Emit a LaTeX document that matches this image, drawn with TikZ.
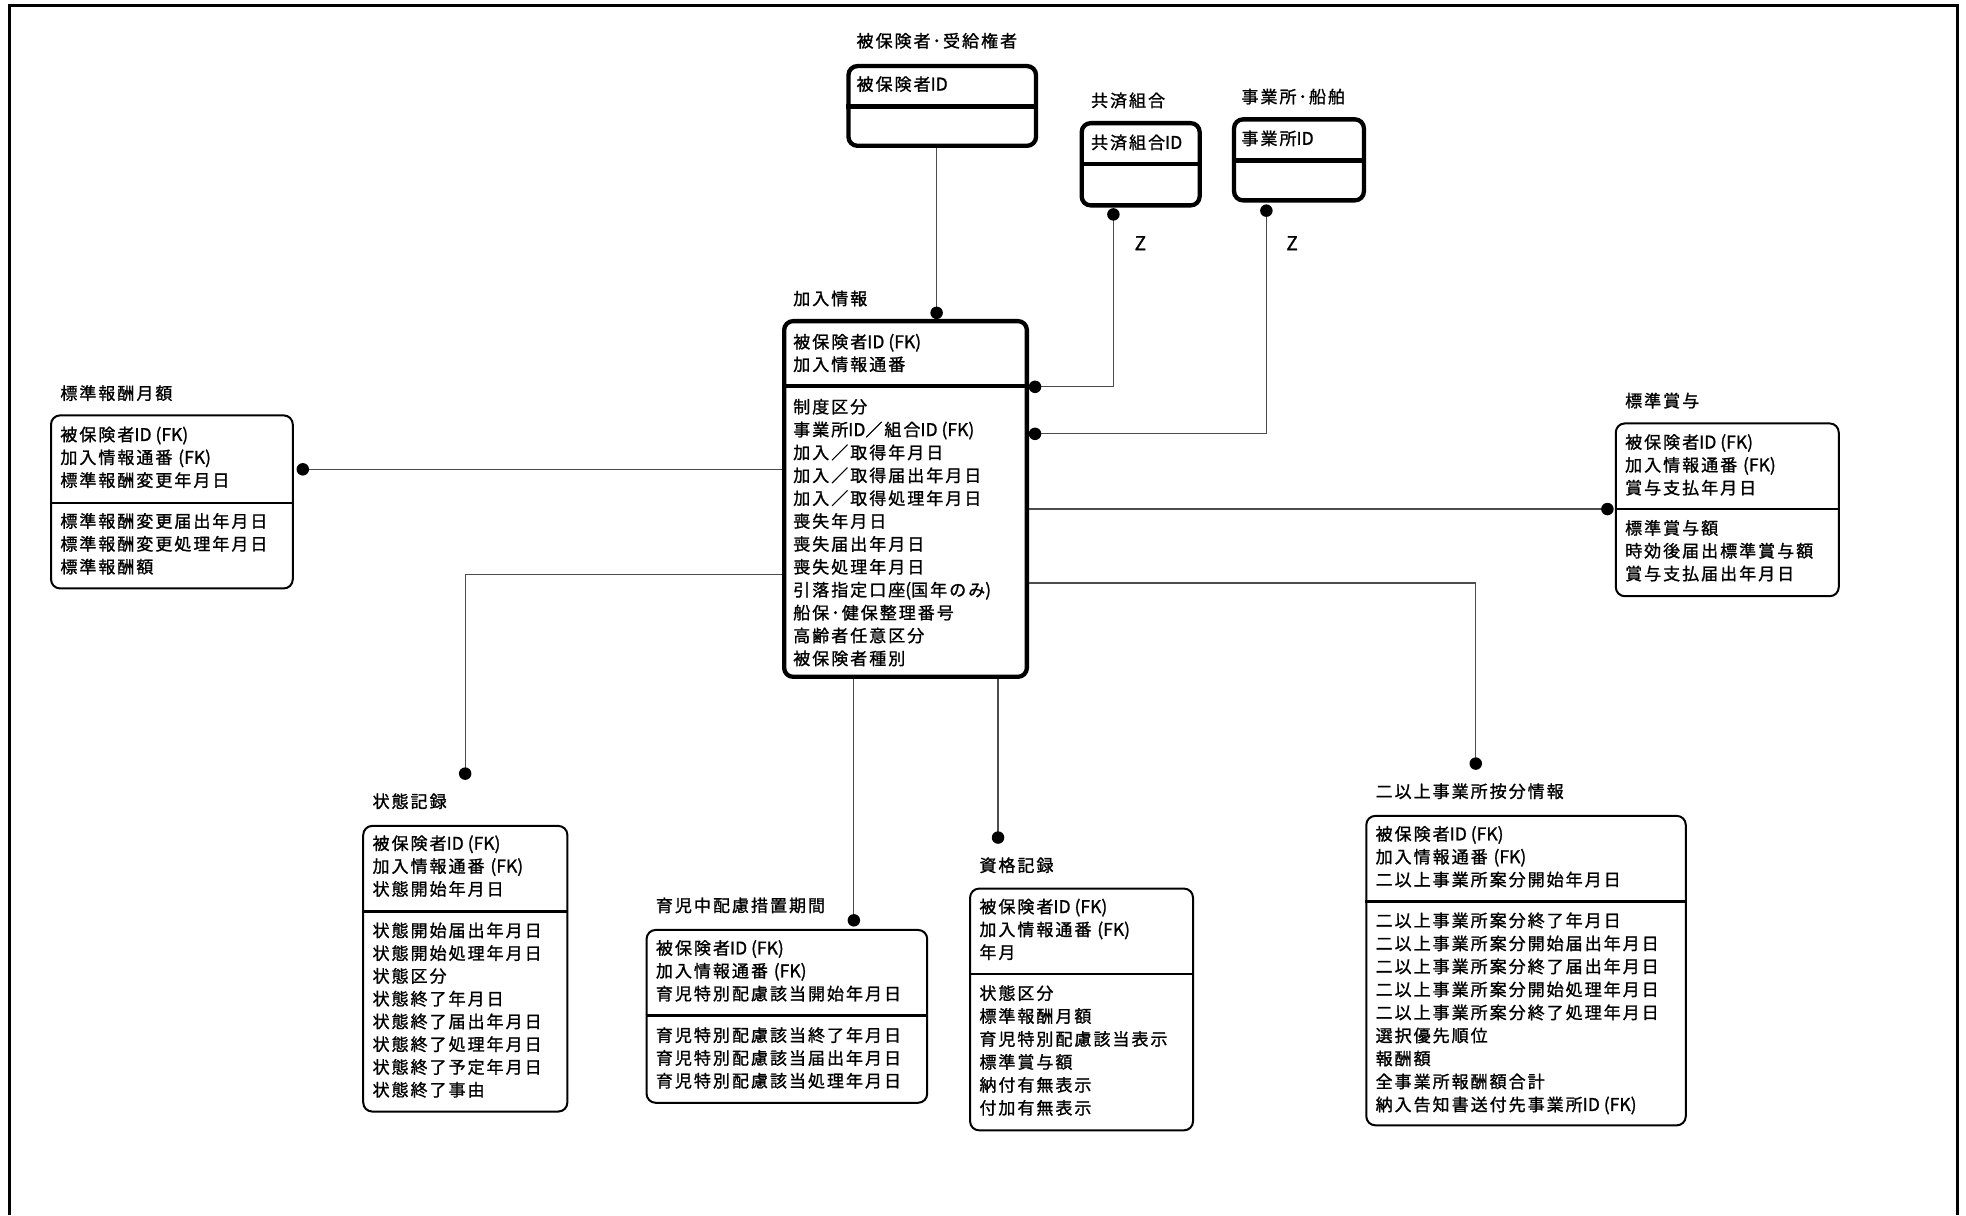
\documentclass[tikz,border=0pt]{standalone}
\usepackage{fontspec}
\setmainfont{Noto Sans CJK JP}[LetterSpace=11.8,FakeBold=1.2]
\newfontfamily\latf{Noto Sans CJK JP}[FakeBold=1.2]
\usetikzlibrary{fit}
\newcommand{\ltn}[1]{{\latf\fontsize{17.5pt}{20pt}\selectfont #1}}
\newcommand{\Lines}[5]{\foreach \itm [count=\k] in {#5}{\node[txt] (#1-\k) at (#2,{#3+5.2+(\k-1)*#4}) {\itm};}}
\newcommand{\Title}[4]{\node[txt] (#1) at (#2,{#3+5.2}) {#4};}
\begin{document}
\begin{tikzpicture}[x=1.2538pt,y=-1.2538pt,
  txt/.style={anchor=base west,inner sep=0pt,font=\fontsize{17pt}{20pt}\selectfont},
  thickbox/.style={draw,line width=4.3pt,rounded corners=9pt,inner sep=0pt},
  thinbox/.style={draw,line width=2pt,rounded corners=9pt,inner sep=0pt},
  thickdiv/.style={line width=4.3pt},
  thindiv/.style={line width=2.4pt},
  conn/.style={draw=black!70,line width=1.2pt},
  dot/.style={circle,fill=black,inner sep=0pt,minimum size=12.5pt},
  frameline/.style={line width=3.5pt}]
\useasboundingbox (0,0) rectangle (1568,969.05);
\draw[frameline] (7.6,969.05) -- (7.6,4.4) -- (1561.2,4.4) -- (1561.2,969.05);

% ---------- boxes ----------
\node[thickbox, fit={(676.7,52.7) (826.3,116.3)}] (hk) {};
\draw[thickdiv] (hk.west |- 0,85) -- (hk.east |- 0,85);
\Title{hk-t}{683}{32.5}{被保険者･受給権者}
\Lines{hk-k}{683}{67}{18.2}{被保険者\ltn{ID}}

\node[thickbox, fit={(862.7,98.2) (956.8,163.8)}] (kk) {};
\draw[thickdiv] (kk.west |- 0,131) -- (kk.east |- 0,131);
\Title{kk-t}{870}{80}{共済組合}
\Lines{kk-k}{870}{113.5}{18.2}{共済組合\ltn{ID}}

\node[thickbox, fit={(984.2,95.2) (1087.8,159.8)}] (jg) {};
\draw[thickdiv] (jg.west |- 0,128) -- (jg.east |- 0,128);
\Title{jg-t}{990}{77}{事業所･船舶}
\Lines{jg-k}{990}{110.3}{18.2}{事業所\ltn{ID}}

\node[thickbox, fit={(625.4,256.1) (819,539.8)}] (kn) {};
\draw[thickdiv] (kn.west |- 0,307.7) -- (kn.east |- 0,307.7);
\Title{kn-t}{632.5}{238}{加入情報}
\Lines{kn-k}{632.5}{272.5}{18}{被保険者\ltn{ID (FK)},加入情報通番}
\Lines{kn-a}{632.5}{324.3}{18.25}{制度区分,事業所\ltn{ID}／組合\ltn{ID (FK)},加入／取得年月日,加入／取得届出年月日,加入／取得処理年月日,喪失年月日,喪失届出年月日,喪失処理年月日,引落指定口座\ltn{(}国年のみ\ltn{)},船保･健保整理番号,高齢者任意区分,被保険者種別}

\node[thinbox, fit={(40.7,331.3) (233.5,469.3)}] (hg) {};
\draw[thindiv] (hg.west |- 0,401) -- (hg.east |- 0,401);
\Title{hg-t}{48}{313.5}{標準報酬月額}
\Lines{hg-k}{48}{346.5}{18.2}{被保険者\ltn{ID (FK)},加入情報通番 \ltn{(FK)},標準報酬変更年月日}
\Lines{hg-a}{48}{415.5}{18.2}{標準報酬変更届出年月日,標準報酬変更処理年月日,標準報酬額}

\node[thinbox, fit={(1288.7,337.7) (1466.5,475.5)}] (hs) {};
\draw[thindiv] (hs.west |- 0,406) -- (hs.east |- 0,406);
\Title{hs-t}{1296}{319.5}{標準賞与}
\Lines{hs-k}{1296}{352.5}{18.2}{被保険者\ltn{ID (FK)},加入情報通番 \ltn{(FK)},賞与支払年月日}
\Lines{hs-a}{1296}{421}{18.2}{標準賞与額,時効後届出標準賞与額,賞与支払届出年月日}

\node[thinbox, fit={(289.7,658.7) (452.5,886.5)}] (jt) {};
\draw[thindiv] (jt.west |- 0,727) -- (jt.east |- 0,727);
\Title{jt-t}{297}{639}{状態記録}
\Lines{jt-k}{297}{672.5}{18.2}{被保険者\ltn{ID (FK)},加入情報通番 \ltn{(FK)},状態開始年月日}
\Lines{jt-a}{297}{742}{18.15}{状態開始届出年月日,状態開始処理年月日,状態区分,状態終了年月日,状態終了届出年月日,状態終了処理年月日,状態終了予定年月日,状態終了事由}

\node[thinbox, fit={(515.7,741.7) (739.5,879.5)}] (ik) {};
\draw[thindiv] (ik.west |- 0,810) -- (ik.east |- 0,810);
\Title{ik-t}{523}{722}{育児中配慮措置期間}
\Lines{ik-k}{523}{756}{18.2}{被保険者\ltn{ID (FK)},加入情報通番 \ltn{(FK)},育児特別配慮該当開始年月日}
\Lines{ik-a}{523}{825.5}{18.2}{育児特別配慮該当終了年月日,育児特別配慮該当届出年月日,育児特別配慮該当処理年月日}

\node[thinbox, fit={(773.7,708.7) (951.5,901.5)}] (sk) {};
\draw[thindiv] (sk.west |- 0,777) -- (sk.east |- 0,777);
\Title{sk-t}{781}{690}{資格記録}
\Lines{sk-k}{781}{723}{18.2}{被保険者\ltn{ID (FK)},加入情報通番 \ltn{(FK)},年月}
\Lines{sk-a}{781}{792}{18.3}{状態区分,標準報酬月額,育児特別配慮該当表示,標準賞与額,納付有無表示,付加有無表示}

\node[thinbox, fit={(1089.7,650.7) (1344.5,897.5)}] (ni) {};
\draw[thindiv] (ni.west |- 0,719) -- (ni.east |- 0,719);
\Title{ni-t}{1097}{631}{二以上事業所按分情報}
\Lines{ni-k}{1097}{665}{18.2}{被保険者\ltn{ID (FK)},加入情報通番 \ltn{(FK)},二以上事業所案分開始年月日}
\Lines{ni-a}{1097}{734}{18.35}{二以上事業所案分終了年月日,二以上事業所案分開始届出年月日,二以上事業所案分終了届出年月日,二以上事業所案分開始処理年月日,二以上事業所案分終了処理年月日,選択優先順位,報酬額,全事業所報酬額合計,納入告知書送付先事業所\ltn{ID (FK)}}

% ---------- connector end points ----------
\coordinate (p-hk) at (747,249.5);
\coordinate (p-kk) at (888,171);
\coordinate (p-kk2) at (825.5,308.5);
\coordinate (p-jg) at (1010,168);
\coordinate (p-jg2) at (825.5,346);
\coordinate (p-hg) at (241.5,374.3);
\coordinate (p-hs) at (1282,406);
\coordinate (p-jt) at (371,617);
\coordinate (p-ik) at (681,734);
\coordinate (p-sk) at (796,668);
\coordinate (p-ni) at (1177,609);

% ---------- connectors ----------
\draw[conn] (hk.south -| p-hk) -- (p-hk);
\draw[conn] (p-kk) |- (p-kk2);
\draw[conn] (p-jg) |- (p-jg2);
\draw[conn] (kn.west |- p-hg) -- (p-hg);
\draw[conn] (kn.east |- p-hs) -- (p-hs);
\draw[conn] (kn.west |- 0,458) -| (p-jt);
\draw[conn] (kn.south -| p-ik) -- (p-ik);
\draw[conn] (kn.south -| p-sk) -- (p-sk);
\draw[conn] (kn.east |- 0,465) -| (p-ni);

% ---------- dots ----------
\foreach \d in {hk,kk,kk2,jg,jg2,hg,hs,jt,ik,sk,ni}{\node[dot] (d-\d) at (p-\d) {};}

\node[txt,anchor=base] (z1) at (909.5,199.5) {{\latf\fontsize{19pt}{20pt}\selectfont Z}};
\node[txt,anchor=base] (z2) at (1030.5,199.5) {{\latf\fontsize{19pt}{20pt}\selectfont Z}};
\end{tikzpicture}
\end{document}
